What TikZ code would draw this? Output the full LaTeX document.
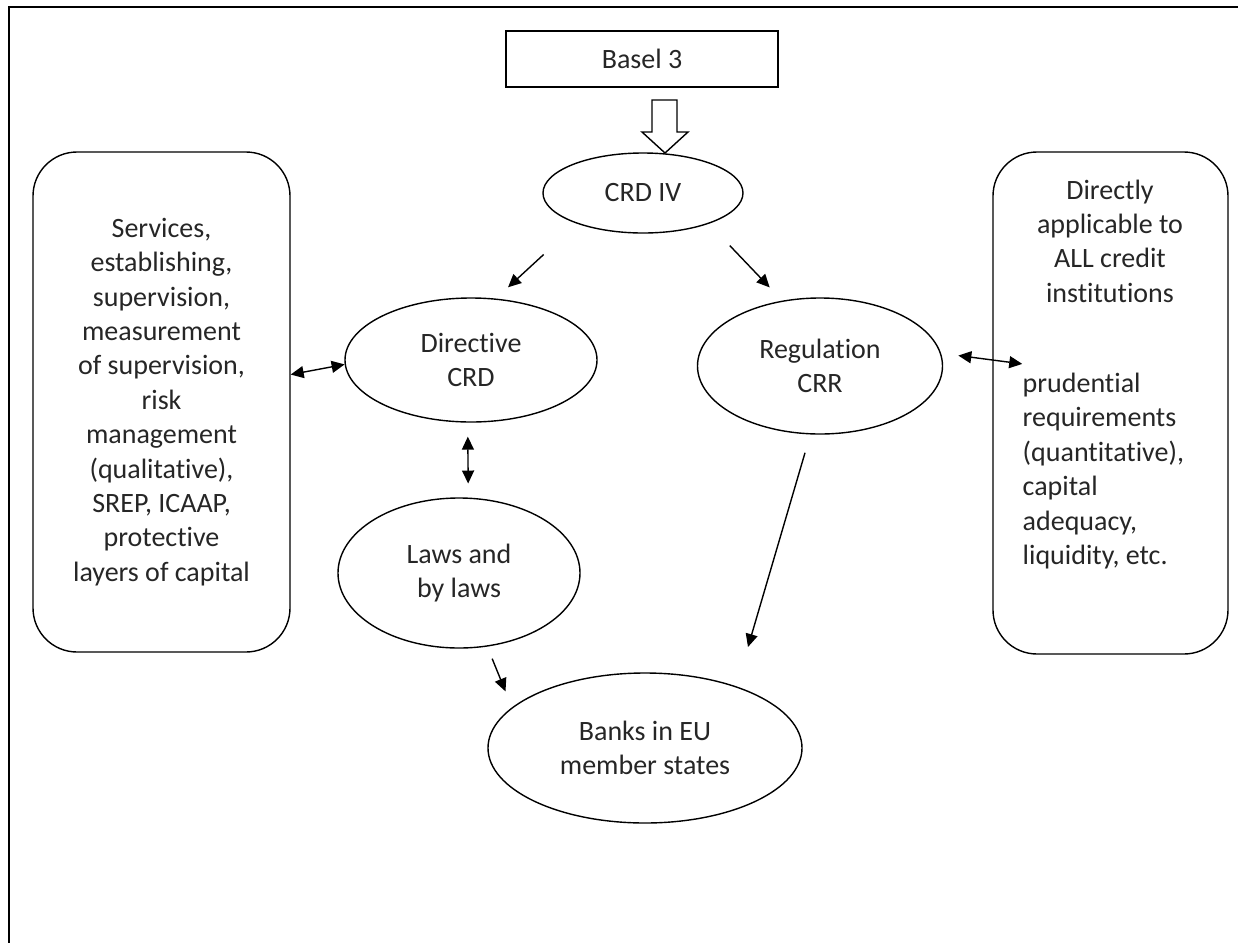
\documentclass[tikz,border=0pt]{standalone}
\usepackage{fontspec}
\setmainfont{Carlito}[RawFeature={-liga;-clig;-dlig}]
\usetikzlibrary{arrows.meta}
\usetikzlibrary{shapes.geometric}

\begin{document}
\begin{tikzpicture}[x=0.5pt,y=-0.5pt,
  every node/.style={color=black!85,font=\fontsize{14}{17.2}\selectfont,align=center,inner sep=0pt},
  oval/.style={draw=black,ellipse,line width=0.7pt},
  tbox/.style={draw=black,rounded corners=22pt,line width=0.7pt},
  every path/.style={line width=0.7pt},
  >={Triangle[length=6.5pt,width=6pt]}]
\useasboundingbox (0,0) rectangle (1238,943);
\draw[line width=1.2pt] (9,943) -- (9,7) -- (1238,7);

\node[draw=black,minimum width=136pt,minimum height=28pt] (basel) at (642,59) {Basel 3};
\node[oval,minimum width=100pt,minimum height=40pt] (crdiv) at (643,193) {CRD IV};
\node[oval,minimum width=126pt,minimum height=62pt] (dir) at (471,360) {Directive\\CRD};
\node[oval,minimum width=122.5pt,minimum height=68pt] (reg) at (820,366) {Regulation\\CRR};
\node[oval,minimum width=121pt,minimum height=75pt] (laws) at (459,573) {Laws and\\by laws};
\node[oval,minimum width=157pt,minimum height=75pt] (banks) at (645,748) {Banks in EU\\member states};

\node[tbox,minimum width=128.5pt,minimum height=250pt] (lbox) at (161.5,402) {Services,\\establishing,\\supervision,\\measurement\\of supervision,\\risk\\management\\(qualitative),\\SREP, ICAAP,\\protective\\layers of capital};
\node[tbox,minimum width=117.5pt,minimum height=251pt] (rbox) at (1110.5,403) {};
\node (rtop) at (1110,241) {Directly\\applicable to\\ALL credit\\institutions};
\node[anchor=west,align=left] (rbot) at (1022,471) {prudential\\requirements\\(quantitative),\\capital\\adequacy,\\liquidity, etc.};

% hollow arrow Basel 3 -> CRD IV
\draw[fill=white] (652,100) -- (677,100) -- (677,132) -- (688,132) -- (665,153) -- (642,132) -- (652,132) -- cycle;

\draw[->,shorten <=22.7pt,shorten >=8.3pt] (crdiv.205.6) -- (dir.68.8);
\draw[->,shorten <=15.1pt,shorten >=9.1pt] (crdiv.335.8) -- (reg.120.2);
\draw[->,shorten <=9.5pt,shorten >=20.5pt] (reg.262.9) -- (banks.34.8);
\draw[->,shorten <=6.5pt,shorten >=8.6pt] (laws.291) -- (banks.163.1);
\draw[<->,shorten <=7pt,shorten >=7pt] (dir.267.2) -- (laws.83.1);
\draw[<->] (lbox.12.5) -- (dir.182.3);
\draw[<->,shorten <=8.7pt,shorten >=-15.1pt] (reg.6.2) -- (rbox.160.8);
\end{tikzpicture}
\end{document}
